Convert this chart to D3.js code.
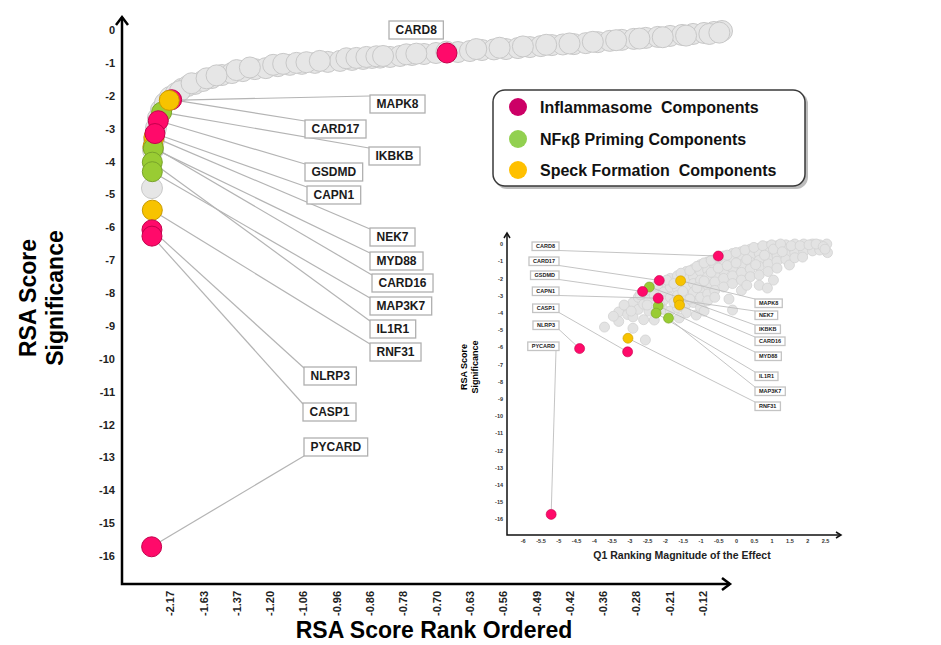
<!DOCTYPE html>
<html>
<head>
<meta charset="utf-8">
<script src="https://cdn.jsdelivr.net/npm/d3@7"></script>
<style>
  body { margin: 0; background: #fff; }
  text { font-family: "Liberation Sans", Arial, sans-serif; font-weight: bold; }
</style>
</head>
<body>
<svg id="chart" width="941" height="645"></svg>
<script>
// ---- data ----
const rankTickLabels = ['-2.17', '-1.63', '-1.37', '-1.20', '-1.06', '-0.96', '-0.86', '-0.78', '-0.70',
    '-0.63', '-0.56', '-0.49', '-0.42', '-0.36', '-0.28', '-0.21', '-0.12'];
const sigTicks = [0, -1, -2, -3, -4, -5, -6, -7, -8, -9, -10, -11, -12, -13, -14, -15, -16];
const effectTicks = [-6, -5.5, -5, -4.5, -4, -3.5, -3, -2.5, -2, -1.5, -1, -0.5, 0, 0.5, 1, 1.5, 2, 2.5];

// background genes, main panel (rank position in tick units, significance)
const grayRank = [-0.54, -0.51, -0.48, -0.42, -0.36, -0.27, -0.15, 0, 0.18, 0.36, 0.54, 0.75, 0.99, 1.26,
    1.56, 1.86, 2.19, 2.55, 2.88, 3.24, 3.6, 3.96, 4.35, 4.74, 5.11, 5.47, 5.8, 6.07, 6.31, 6.61, 6.91,
    7.27, 7.63, 7.99, 8.65, 9.01, 9.37, 9.73, 10.09, 10.45, 10.81, 11.14, 11.47, 11.8, 12.13, 12.49,
    12.85, 13.21, 13.57, 13.93, 14.29, 14.65, 15.02, 15.38, 15.71, 16.04, 16.34, 16.58,
    0.3, 0.65, 1.1, 1.4, 2.0, 2.4, 3.1, 3.4, 3.8, 4.1, 4.5, 5.3, 5.6, 5.9, 6.2, 6.4, 7.1, 7.4, 8.3,
    9.2, 9.9, 10.6, 11.3, 12.0, 12.7, 13.4, 14.1, 14.8, 15.5, 16.2, 16.5];
const graySig = [-4.81, -3.65, -3.35, -2.98, -2.68, -2.43, -2.22, -2.04, -1.92, -1.79, -1.70, -1.64, -1.55,
    -1.46, -1.37, -1.31, -1.25, -1.19, -1.16, -1.10, -1.06, -1.03, -1.00, -0.97, -0.94, -0.91, -0.88,
    -0.85, -0.84, -0.82, -0.79, -0.76, -0.73, -0.70, -0.67, -0.64, -0.61, -0.59, -0.58, -0.55, -0.52,
    -0.49, -0.46, -0.44, -0.43, -0.40, -0.37, -0.33, -0.30, -0.27, -0.24, -0.21, -0.18, -0.15, -0.12,
    -0.09, -0.06, -0.03,
    -1.86, -1.62, -1.47, -1.38, -1.22, -1.14, -1.06, -1.03, -1.0, -0.98, -0.94, -0.86, -0.85, -0.82,
    -0.8, -0.79, -0.74, -0.72, -0.66, -0.58, -0.54, -0.5, -0.45, -0.41, -0.36, -0.31, -0.26, -0.22,
    -0.17, -0.12, -0.08];

// background genes, inset (Q1 effect, significance)
const cloudPoints = [
    [-3.7, -4.83], [-3.3, -3.95], [-3.3, -4.5], [-3.05, -3.7], [-3.05, -4.1],
    [-2.9, -3.4], [-2.9, -4.24], [-2.9, -4.9], [-2.75, -3.1], [-2.75, -3.8],
    [-2.6, -2.9], [-2.6, -3.5], [-2.6, -4.4], [-2.55, -5.58], [-2.45, -2.7], [-2.45, -3.25], [-2.45, -3.9],
    [-2.3, -2.5], [-2.3, -3.0], [-2.3, -4.42], [-2.05, -2.2], [-2.05, -2.8], [-2.05, -3.3], [-2.05, -3.8],
    [-1.85, -2.0], [-1.85, -2.5], [-1.85, -3.1], [-1.85, -3.9], [-1.65, -1.85], [-1.65, -2.6], [-1.65, -3.0],
    [-1.65, -3.7], [-1.4, -1.6], [-1.4, -2.05], [-1.4, -2.5], [-1.4, -3.0], [-1.4, -3.5], [-1.4, -4.0],
    [-1.2, -1.45], [-1.2, -1.9], [-1.2, -2.3], [-1.2, -2.8], [-1.2, -3.4], [-1.12, -4.13],
    [-1.0, -1.2], [-1.0, -1.6], [-1.0, -2.1], [-1.0, -2.6], [-1.0, -3.1], [-1.0, -3.7],
    [-0.8, -1.05], [-0.8, -1.5], [-0.8, -1.9], [-0.8, -2.4], [-0.8, -2.9], [-0.8, -3.3],
    [-0.6, -0.9], [-0.6, -1.3], [-0.6, -1.75], [-0.6, -2.2], [-0.6, -2.7], [-0.6, -3.1],
    [-0.35, -0.7], [-0.35, -1.1], [-0.35, -1.55], [-0.35, -2.0], [-0.35, -2.5],
    [-0.1, -0.55], [-0.1, -0.95], [-0.1, -1.4], [-0.1, -1.85], [-0.1, -2.3], [-0.1, -3.84],
    [0.15, -0.45], [0.15, -0.8], [0.15, -1.2], [0.15, -1.65], [0.15, -2.1], [0.15, -2.7],
    [0.4, -0.3], [0.4, -0.7], [0.4, -1.05], [0.4, -1.45], [0.4, -1.9],
    [0.65, -0.25], [0.65, -0.55], [0.65, -0.95], [0.65, -1.3], [0.65, -1.8], [0.65, -2.4],
    [0.9, -0.15], [0.9, -0.45], [0.9, -0.8], [0.9, -1.15], [0.9, -1.6], [0.88, -2.56],
    [1.15, -0.1], [1.15, -0.4], [1.15, -0.7], [1.15, -1.0], [1.15, -1.4],
    [1.4, -0.05], [1.4, -0.3], [1.4, -0.6], [1.4, -0.9], [1.5, -1.22],
    [1.65, 0], [1.65, -0.25], [1.65, -0.5], [1.65, -0.8], [1.9, 0], [1.9, -0.2], [1.9, -0.45], [1.87, -0.76],
    [2.15, 0], [2.15, -0.15], [2.15, -0.4], [2.35, -0.05], [2.35, -0.35], [2.55, 0], [2.57, -0.5],
    [-3.45, -4.2], [-3.15, -3.55], [-2.95, -3.9], [-2.7, -2.95], [-2.5, -3.55], [-2.2, -2.35],
    [-2.15, -3.55], [-1.95, -2.1], [-1.75, -2.3], [-1.75, -3.4], [-1.55, -1.7], [-1.5, -2.75],
    [-1.3, -1.55], [-1.3, -3.2], [-1.1, -1.3], [-1.1, -2.55], [-0.9, -1.1], [-0.9, -2.15],
    [-0.7, -0.95], [-0.7, -1.65], [-0.5, -0.8], [-0.5, -1.4], [-0.25, -0.65], [-0.25, -1.25],
    [0, -0.5], [0, -1.1], [0.25, -0.35], [0.3, -0.9], [0.5, -0.2], [0.55, -1.2], [0.75, -0.1],
    [0.8, -0.65], [1.0, -0.05], [1.05, -0.3], [1.25, 0], [1.3, -0.45], [1.55, -0.1], [1.8, -0.1],
    [2.05, -0.05], [2.25, 0], [2.45, -0.15], [2.5, -0.3], [-0.2, -3.2], [0.3, -2.4], [1.05, -2.1],
    [-1.6, -4.3], [-0.9, -3.9]
];

// highlighted genes (drawing order bottom -> top)
const genes = ['NEK7', 'CARD16', 'IKBKB', 'MYD88', 'IL1R1', 'MAP3K7', 'RNF31', 'CARD17', 'GSDMD',
    'CAPN1', 'NLRP3', 'CASP1', 'PYCARD', 'CARD8', 'MAPK8'];
const geneGroup = [2, 2, 1, 1, 1, 1, 2, 0, 0, 0, 0, 0, 0, 0, 2];
const geneSig = [-3.26, -3.55, -2.5, -3.6, -4.02, -4.31, -5.48, -2.12, -2.76, -3.15, -6.08, -6.27, -15.72, -0.70, -2.14];
const geneRank = [-0.48, -0.51, -0.25, -0.5, -0.53, -0.53, -0.53, 0.05, -0.35, -0.45, -0.54, -0.54, -0.55, 8.32, -0.02];
const geneEffect = [-1.62, -1.59, -2.44, -2.19, -2.25, -1.9, -3.04, -2.16, -2.63, -2.19, -4.4, -3.05, -5.2, -0.5, -1.56];

const groupNames = ['Inflammasome  Components', 'NF\u03BA\u03B2 Priming Components', 'Speck Formation  Components'];
const groupFill = ['#ff0a6a', '#99cc33', '#f7c300'];
const groupStroke = ['#c4004c', '#78a32a', '#c89a00'];
const legendFill = ['#cc0066', '#92d050', '#ffc000'];

// ---- layout (label boxes) ----
const mainLabelPos = {
    CARD8: [389, 21], MAPK8: [370, 95], CARD17: [305, 120], IKBKB: [369, 147], GSDMD: [305, 163],
    CAPN1: [307, 186], NEK7: [370, 228], MYD88: [370, 252], CARD16: [372, 274], MAP3K7: [370, 297],
    IL1R1: [370, 320], RNF31: [370, 343], NLRP3: [304, 367], CASP1: [303, 403], PYCARD: [304, 438]
};
const insetLeft = { CARD8: 242, CARD17: 257, GSDMD: 271, CAPN1: 287, CASP1: 304, NLRP3: 321, PYCARD: 342 };
const insetRight = { MAPK8: 299, NEK7: 311, IKBKB: 325, CARD16: 337, MYD88: 352, IL1R1: 372, MAP3K7: 387, RNF31: 402 };

const svg = d3.select('#chart');
const plain = d => String(d);   // keep ascii hyphen as minus

// ---- main panel ----
const x = d3.scaleLinear().domain([-1.44, 16.82]).range([122, 730]);
const y = d3.scaleLinear().domain([0, -16]).range([30, 556]);
const yBottom = y(-16.85);

const yAxis = svg.append('g')
    .attr('transform', `translate(${x(-1.44)},0)`)
    .call(d3.axisLeft(y).tickValues(sigTicks).tickFormat(plain).tickSize(0).tickPadding(7));
yAxis.select('.domain').remove();
yAxis.selectAll('text').style('font-size', '11px').attr('fill', '#222');

const xAxis = svg.append('g')
    .attr('transform', `translate(0,${yBottom})`)
    .call(d3.axisBottom(x).tickValues(d3.range(rankTickLabels.length))
        .tickFormat(i => rankTickLabels[i]).tickSize(0));
xAxis.select('.domain').remove();
xAxis.selectAll('text')
    .style('font-size', '11px').attr('fill', '#222')
    .attr('transform', 'rotate(-90)')
    .attr('text-anchor', 'end')
    .attr('x', -7).attr('y', 0).attr('dy', '0.35em');

// axis lines with arrows
const axisPath = `M${x(-1.44)},17 L${x(-1.44)},${yBottom} L730,${yBottom}`;
svg.append('path').attr('d', axisPath).attr('fill', 'none').attr('stroke', '#000').attr('stroke-width', 2.5);
svg.append('path').attr('d', `M${x(-1.44) - 6},25 L${x(-1.44)},17 L${x(-1.44) + 6},25`)
    .attr('fill', 'none').attr('stroke', '#000').attr('stroke-width', 2.5);
svg.append('path').attr('d', `M722,${yBottom - 6} L730,${yBottom} L722,${yBottom + 6}`)
    .attr('fill', 'none').attr('stroke', '#000').attr('stroke-width', 2.5);

// axis titles
svg.append('text').attr('transform', 'translate(36,298) rotate(-90)')
    .attr('text-anchor', 'middle').style('font-size', '23px').text('RSA Score');
svg.append('text').attr('transform', 'translate(63,298) rotate(-90)')
    .attr('text-anchor', 'middle').style('font-size', '23px').text('Significance');
svg.append('text').attr('x', 434).attr('y', 638)
    .attr('text-anchor', 'middle').style('font-size', '23px').text('RSA Score Rank Ordered');

// gray points
svg.append('g').selectAll('circle')
    .data(d3.range(grayRank.length))
    .join('circle')
    .attr('cx', i => x(grayRank[i]))
    .attr('cy', i => y(graySig[i]))
    .attr('r', 10.5)
    .attr('fill', '#e6e6e6')
    .attr('stroke', '#c8c8c8')
    .attr('stroke-width', 1);

// leader lines (main)
const anchorMain = g => {
    const p = mainLabelPos[g];
    return g === 'PYCARD' ? [p[0], p[1] + 18] : [p[0], p[1] + 1];
};
svg.append('g').selectAll('line')
    .data(genes.map((g, i) => i).filter(i => genes[i] !== 'CARD8'))
    .join('line')
    .attr('x1', i => x(geneRank[i]))
    .attr('y1', i => y(geneSig[i]))
    .attr('x2', i => anchorMain(genes[i])[0])
    .attr('y2', i => anchorMain(genes[i])[1])
    .attr('stroke', '#b4b4b4')
    .attr('stroke-width', 1.2);

// highlighted points (main)
svg.append('g').selectAll('circle')
    .data(d3.range(genes.length))
    .join('circle')
    .attr('cx', i => x(geneRank[i]))
    .attr('cy', i => y(geneSig[i]))
    .attr('r', 10)
    .attr('fill', i => groupFill[geneGroup[i]])
    .attr('stroke', i => groupStroke[geneGroup[i]])
    .attr('stroke-width', 1);

// boxed labels helper
const boxLabel = (parent, textStr, px, py, size, padX, h, anchor, boxStroke) => {
    const g = parent.append('g');
    const rect = g.append('rect');
    const t = g.append('text')
        .attr('y', py + h / 2)
        .attr('dy', '0.36em')
        .style('font-size', size + 'px')
        .attr('fill', '#1a1a1a')
        .text(textStr);
    const w = t.node().getComputedTextLength() + padX * 2;
    const left = anchor === 'end' ? px - w : px;
    t.attr('x', left + padX);
    rect.attr('x', left).attr('y', py).attr('width', w).attr('height', h)
        .attr('fill', '#fff').attr('stroke', boxStroke).attr('stroke-width', 1.3);
    return { left, w };
};

const mainLabels = svg.append('g');
genes.forEach(g => {
    const p = mainLabelPos[g];
    boxLabel(mainLabels, g, p[0], p[1], 12, 6.5, 18, 'start', '#b0b0b0');
});

// ---- legend ----
const legend = svg.append('g');
legend.append('rect').attr('x', 495).attr('y', 92).attr('width', 313).attr('height', 97)
    .attr('rx', 12).attr('fill', '#bdbdbd');
legend.append('rect').attr('x', 493).attr('y', 90).attr('width', 312).attr('height', 96)
    .attr('rx', 12).attr('fill', '#fff').attr('stroke', '#3a3a3a').attr('stroke-width', 1.5);
const legendY = [107, 139, 170];
groupNames.forEach((name, i) => {
    legend.append('circle').attr('cx', 518).attr('cy', legendY[i]).attr('r', 9)
        .attr('fill', legendFill[i]);
    legend.append('text').attr('x', 540).attr('y', legendY[i]).attr('dy', '0.36em')
        .style('font-size', '16px').attr('fill', '#111').attr('xml:space', 'preserve').text(name);
});

// ---- inset ----
const inset = svg.append('g');
const xi = d3.scaleLinear().domain([-6, 2.5]).range([522.7, 825]);
const yi = d3.scaleLinear().domain([0, -16]).range([244, 519.2]);
const iLeft = 507, iBottom = 535;

const yAxisI = inset.append('g')
    .attr('transform', `translate(${iLeft},0)`)
    .call(d3.axisLeft(yi).tickValues(sigTicks).tickFormat(plain).tickSize(0).tickPadding(4));
yAxisI.select('.domain').remove();
yAxisI.selectAll('text').style('font-size', '5.5px').attr('fill', '#333');

const xAxisI = inset.append('g')
    .attr('transform', `translate(0,${iBottom})`)
    .call(d3.axisBottom(xi).tickValues(effectTicks).tickFormat(plain).tickSize(0).tickPadding(4));
xAxisI.select('.domain').remove();
xAxisI.selectAll('text').style('font-size', '5.5px').attr('fill', '#333');

inset.append('path').attr('d', `M${iLeft},234 L${iLeft},${iBottom} L840,${iBottom}`)
    .attr('fill', 'none').attr('stroke', '#111').attr('stroke-width', 1.5);
inset.append('path').attr('d', `M${iLeft - 3},238 L${iLeft},233 L${iLeft + 3},238`)
    .attr('fill', 'none').attr('stroke', '#111').attr('stroke-width', 1.5);
inset.append('path').attr('d', `M836,${iBottom - 3} L841,${iBottom} L836,${iBottom + 3}`)
    .attr('fill', 'none').attr('stroke', '#111').attr('stroke-width', 1.5);

inset.append('text').attr('transform', 'translate(467,367) rotate(-90)')
    .attr('text-anchor', 'middle').style('font-size', '9px').text('RSA Score');
inset.append('text').attr('transform', 'translate(478,367) rotate(-90)')
    .attr('text-anchor', 'middle').style('font-size', '9px').text('Significance');
inset.append('text').attr('x', 682).attr('y', 559)
    .attr('text-anchor', 'middle').style('font-size', '10.5px').attr('fill', '#222')
    .text('Q1 Ranking Magnitude of the Effect');

inset.append('g').selectAll('circle')
    .data(cloudPoints)
    .join('circle')
    .attr('cx', d => xi(d[0]))
    .attr('cy', d => yi(d[1]))
    .attr('r', 5)
    .attr('fill', '#e3e3e3')
    .attr('stroke', '#d2d2d2')
    .attr('stroke-width', 0.8);

// inset labels + leader lines
const insetLines = inset.append('g');
const insetDots = inset.append('g');
const insetLabels = inset.append('g');
genes.forEach((g, i) => {
    const px = xi(geneEffect[i]), py = yi(geneSig[i]);
    let ax, ay;
    if (insetLeft[g] !== undefined) {
        const b = boxLabel(insetLabels, g, 559, insetLeft[g], 5.5, 4, 8.5, 'end', '#c4c4c4');
        ax = g === 'PYCARD' ? b.left + b.w - 3 : b.left + b.w;
        ay = insetLeft[g] + 8.5;
    } else {
        boxLabel(insetLabels, g, 755, insetRight[g], 5.5, 4, 8.5, 'start', '#c4c4c4');
        ax = 755;
        ay = insetRight[g];
    }
    insetLines.append('line')
        .attr('x1', px).attr('y1', py).attr('x2', ax).attr('y2', ay)
        .attr('stroke', '#bdbdbd').attr('stroke-width', 0.9);
});
insetDots.selectAll('circle')
    .data(d3.range(genes.length))
    .join('circle')
    .attr('cx', i => xi(geneEffect[i]))
    .attr('cy', i => yi(geneSig[i]))
    .attr('r', 5)
    .attr('fill', i => groupFill[geneGroup[i]])
    .attr('stroke', i => groupStroke[geneGroup[i]])
    .attr('stroke-width', 0.6);
</script>
</body>
</html>
